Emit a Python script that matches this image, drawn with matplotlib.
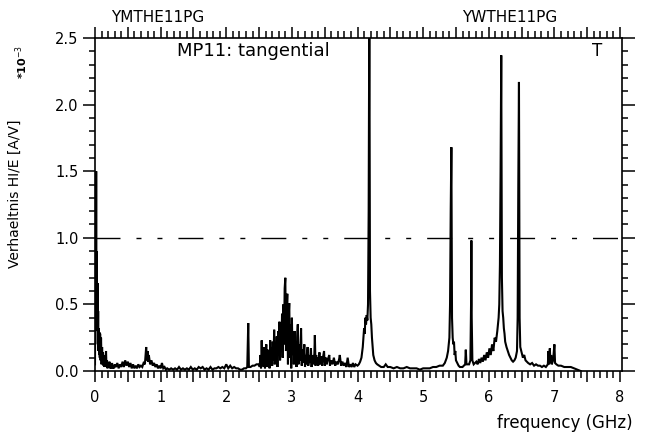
import numpy as np
import matplotlib
matplotlib.use("Agg")
import matplotlib.pyplot as plt
from matplotlib.ticker import MultipleLocator

# ---- data (values in units of 1e-3 A/V) ----
freq_a = [0.000,0.008,0.012,0.018,0.022,0.028,0.033,0.038,0.043,0.048,0.053,0.058,0.063,0.068,0.073,0.078,
          0.085,0.092,0.100,0.108,0.115,0.122,0.130,0.138,0.145,0.152,0.160,0.168,0.175,0.183,0.190,0.200,
          0.210,0.220,0.230,0.240,0.250,0.260,0.270,0.280,0.290,0.300]
amp_a = [0.05,1.20,0.40,1.50,0.60,0.90,0.30,0.66,0.20,0.45,0.15,0.32,0.12,0.29,0.10,0.28,
         0.08,0.25,0.05,0.18,0.06,0.14,0.04,0.12,0.03,0.10,0.04,0.15,0.03,0.08,0.02,0.06,
         0.03,0.07,0.02,0.05,0.02,0.06,0.02,0.04,0.02,0.05]

freq_b = [0.32,0.34,0.36,0.38,0.40,0.42,0.44,0.46,0.48,0.50,0.52,0.54,0.56,0.58,0.60,0.62,0.64,0.66,0.68,0.70,
          0.72,0.74,0.76,0.78,0.79,0.80,0.81,0.82,0.84,0.86,0.88,0.90,0.92,0.94,0.96,0.98,1.00,1.02,1.04,1.06,
          1.08,1.10,1.13,1.16,1.19,1.22,1.25,1.28,1.31,1.34,1.37,1.40,1.43,1.46,1.49,1.52,1.55,1.58,1.61,1.64,
          1.67,1.70,1.73,1.76,1.79,1.82,1.85,1.88,1.91,1.94,1.97,2.00,2.03,2.06,2.09,2.12,2.15,2.18,2.21,2.24,
          2.27,2.30]
amp_b = [0.03,0.06,0.02,0.05,0.03,0.07,0.03,0.08,0.04,0.07,0.03,0.06,0.02,0.05,0.02,0.04,0.02,0.05,0.03,0.04,
         0.03,0.06,0.05,0.18,0.08,0.15,0.07,0.12,0.05,0.08,0.04,0.06,0.03,0.05,0.02,0.04,0.02,0.06,0.02,0.03,
         0.01,0.02,0.01,0.02,0.01,0.02,0.01,0.03,0.01,0.02,0.01,0.02,0.01,0.03,0.01,0.02,0.01,0.03,0.02,0.03,
         0.01,0.02,0.01,0.03,0.01,0.02,0.02,0.03,0.02,0.03,0.02,0.05,0.02,0.04,0.02,0.03,0.02,0.02,0.01,0.01,
         0.02,0.02]

freq_c = [2.320,2.335,2.345,2.370,2.400,2.430,2.460,2.490]
amp_c = [0.03,0.36,0.03,0.03,0.04,0.04,0.05,0.05]

freq_d = [2.50,2.51,2.52,2.53,2.54,2.55,2.56,2.57,2.58,2.59,2.60,2.61,2.62,2.63,2.64,2.65,2.66,2.67,2.68,2.69,
          2.70,2.71,2.72,2.73,2.74,2.75,2.76,2.77,2.78,2.79,2.80,2.81,2.82,2.83,2.84,2.85,2.86,2.87,2.88,2.89,
          2.90,2.91,2.92,2.93,2.94,2.95,2.96,2.97,2.98,2.99,3.00,3.01,3.02,3.03,3.04,3.05,3.06,3.07,3.08,3.09,
          3.10,3.11,3.12,3.13,3.14,3.15,3.16,3.17,3.18,3.19,3.20,3.21,3.22,3.23,3.24,3.25,3.26,3.27,3.28,3.29,
          3.30,3.31,3.32,3.33,3.34,3.35,3.36,3.37,3.38,3.39,3.40,3.42,3.43,3.45,3.46,3.47,3.49,3.50,3.52,3.53,
          3.55,3.57,3.58,3.60,3.62,3.64,3.66,3.68,3.70,3.72,3.73,3.75,3.77,3.79,3.81,3.83,3.85,3.87,3.89,3.91,
          3.93,3.95,3.97]
amp_d = [0.05,0.03,0.12,0.02,0.23,0.04,0.15,0.03,0.18,0.02,0.12,0.20,0.03,0.16,0.05,0.14,0.02,0.23,0.06,0.18,
         0.04,0.22,0.08,0.31,0.05,0.20,0.10,0.26,0.03,0.30,0.12,0.37,0.08,0.32,0.15,0.43,0.10,0.50,0.20,0.62,
         0.70,0.15,0.45,0.58,0.05,0.40,0.51,0.10,0.35,0.02,0.40,0.12,0.28,0.05,0.30,0.08,0.22,0.03,0.25,0.35,
         0.05,0.20,0.08,0.18,0.32,0.04,0.16,0.06,0.14,0.20,0.03,0.12,0.05,0.13,0.18,0.04,0.12,0.06,0.10,0.17,
         0.03,0.10,0.05,0.12,0.08,0.27,0.04,0.12,0.06,0.10,0.04,0.14,0.05,0.11,0.04,0.09,0.15,0.04,0.10,0.05,
         0.09,0.12,0.04,0.08,0.05,0.10,0.04,0.07,0.05,0.09,0.12,0.04,0.07,0.04,0.06,0.03,0.10,0.03,0.05,0.03,
         0.06,0.03,0.05]

freq_e = [4.00,4.02,4.04,4.06,4.08,4.09,4.10,4.11,4.12,4.13,4.14,4.15,4.16,4.17,4.18,4.185,4.19,4.20,4.21,4.22,
          4.23,4.24,4.26,4.28,4.30,4.33,4.36,4.40,4.43,4.46,4.50]
amp_e = [0.04,0.05,0.07,0.10,0.18,0.25,0.32,0.28,0.40,0.35,0.42,0.38,0.50,1.20,2.80,1.50,0.60,0.40,0.35,0.25,
         0.18,0.12,0.08,0.06,0.05,0.04,0.03,0.03,0.05,0.03,0.03]

freq_f = [4.55,4.60,4.65,4.70,4.75,4.80,4.85,4.90,4.95,5.00,5.05,5.10,5.15,5.20,5.25,5.30,5.33,5.36]
amp_f = [0.02,0.03,0.02,0.02,0.03,0.02,0.02,0.02,0.01,0.02,0.02,0.02,0.03,0.03,0.04,0.04,0.06,0.10]

freq_g = [5.38,5.40,5.41,5.42,5.43,5.435,5.44,5.45,5.46,5.47,5.48,5.49,5.50,5.52,5.54,5.56,5.58,5.60,5.62,5.64,
          5.65,5.66,5.68,5.70,5.72,5.73,5.735,5.74,5.75,5.77,5.79]
amp_g = [0.15,0.25,0.50,1.20,1.68,1.00,0.40,0.25,0.20,0.22,0.12,0.15,0.08,0.06,0.04,0.03,0.03,0.03,0.04,0.05,
         0.16,0.05,0.05,0.05,0.08,0.50,0.98,0.40,0.08,0.05,0.06]

freq_h = [5.81,5.83,5.85,5.87,5.89,5.91,5.93,5.95,5.97,5.99,6.01,6.03,6.05,6.07,6.09,6.11,6.13,6.15,6.16,6.17,
          6.18,6.19,6.195,6.20,6.21,6.22,6.23,6.24,6.25,6.27,6.29,6.31,6.33,6.35,6.37,6.39,6.41,6.43,6.44,6.45,
          6.46,6.465,6.47,6.48,6.50,6.52,6.54,6.56,6.58]
amp_h = [0.07,0.05,0.09,0.06,0.10,0.07,0.12,0.08,0.14,0.10,0.17,0.12,0.20,0.15,0.25,0.22,0.30,0.40,0.50,0.80,
         1.50,2.37,1.60,0.70,0.45,0.40,0.32,0.28,0.22,0.18,0.15,0.12,0.10,0.08,0.07,0.08,0.10,0.15,0.40,1.40,
         2.17,1.20,0.40,0.18,0.14,0.10,0.12,0.08,0.07]

freq_i = [6.60,6.63,6.66,6.69,6.72,6.75,6.78,6.81,6.84,6.87,6.90,6.91,6.92,6.93,6.94,6.95,6.96,6.98,7.00,7.01,
          7.03,7.06,7.10,7.15,7.20,7.25,7.30,7.35,7.40]
amp_i = [0.06,0.05,0.06,0.04,0.05,0.04,0.04,0.03,0.04,0.03,0.05,0.15,0.05,0.17,0.06,0.12,0.05,0.08,0.20,0.06,
         0.05,0.04,0.04,0.03,0.03,0.03,0.02,0.01,0.00]

reference_level = 1.0
x_tick_values = [0, 0.5, 1, 1.5, 2, 2.5, 3, 3.5, 4, 4.5, 5, 5.5, 6, 6.5, 7, 7.5, 8]
x_tick_labels = ["0", "", "1", "", "2", "", "3", "", "4", "", "5", "", "6", "", "7", "", "8"]
y_tick_values = [0.0, 0.5, 1.0, 1.5, 2.0, 2.5]
y_tick_labels = ["0.0", "0.5", "1.0", "1.5", "2.0", "2.5"]

freq = np.array(freq_a + freq_b + freq_c + freq_d + freq_e + freq_f + freq_g + freq_h + freq_i)
amp = np.array(amp_a + amp_b + amp_c + amp_d + amp_e + amp_f + amp_g + amp_h + amp_i)

# ---- figure ----
W, H = 649, 432
fig = plt.figure(figsize=(W / 100, H / 100), dpi=100)
ax = fig.add_axes([95 / W, (H - 371) / H, (622 - 95) / W, (371 - 38) / H])

ax.plot(freq, amp, color="black", lw=1.5, solid_joinstyle="miter", clip_on=True)
ax.axhline(reference_level, color="black", lw=1.0, dashes=(18, 11.5, 3.6, 11.5, 3.6, 11.5))

ax.set_xlim(0, 8.03)
ax.set_ylim(0, 2.5)

for s in ax.spines.values():
    s.set_linewidth(1.2)

ax.set_xticks(x_tick_values)
ax.set_xticklabels(x_tick_labels)
ax.set_yticks(y_tick_values)
ax.set_yticklabels(y_tick_labels)
ax.xaxis.set_minor_locator(MultipleLocator(0.1))
ax.yaxis.set_minor_locator(MultipleLocator(0.1))

ax.tick_params(axis="both", which="both", direction="out", top=True, right=True,
               labeltop=False, labelright=False, width=1.1, labelsize=10.5)
ax.tick_params(axis="x", which="major", length=8, pad=6)
ax.tick_params(axis="x", which="minor", length=5)
ax.tick_params(axis="y", which="major", length=9, pad=3)
ax.tick_params(axis="y", which="minor", length=4)

# texts
fig.text(158 / W, 1 - 18 / H, "YMTHE11PG", ha="center", va="center", fontsize=11)
fig.text(510 / W, 1 - 18 / H, "YWTHE11PG", ha="center", va="center", fontsize=11)
fig.text(253 / W, 1 - 51 / H, "MP11: tangential", ha="center", va="center", fontsize=13)
fig.text(597 / W, 1 - 51 / H, "T", ha="center", va="center", fontsize=12)
fig.text(565 / W, 1 - 423 / H, "frequency (GHz)", ha="center", va="center", fontsize=12)
fig.text(15 / W, 1 - 194 / H, "Verhaeltnis HI/E [A/V]", ha="center", va="center",
         rotation=90, fontsize=10, family="DejaVu Sans Condensed")
fig.text(22 / W, 1 - 62 / H, "*10$^{-3}$", ha="center", va="center", rotation=90,
         fontsize=8, fontweight="bold")

fig.savefig("out.png", dpi=100)
